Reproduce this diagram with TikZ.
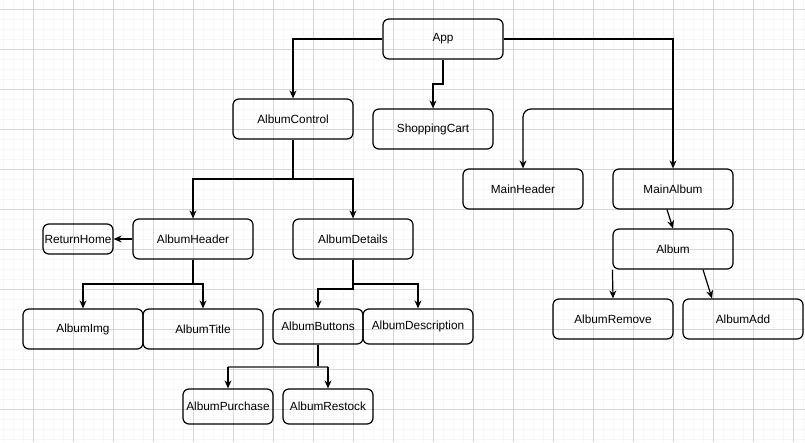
\documentclass[tikz,border=0pt]{standalone}
\usepackage{fontspec}
\setmainfont{Liberation Sans}
\usetikzlibrary{arrows.meta}
\begin{document}
\begin{tikzpicture}[x=1pt,y=-1pt,
  box/.style={draw, line width=1.2pt, rounded corners=6pt, inner sep=0pt, align=center,
    minimum width=120pt, minimum height=40pt, font=\fontsize{11.8}{13}\selectfont},
  conn/.style={line width=1.2pt, -{Stealth[length=8pt,width=7pt]}},
  minorg/.style={draw=black!3.5, line width=0.5pt},
  majorg/.style={draw=black!16, line width=0.8pt}]
\useasboundingbox (0,0) rectangle (805,442);
\fill[white] (0,0) rectangle (805,442);
\foreach \x in {3,13,...,803} \draw[minorg] (\x,0) -- (\x,442);
\foreach \y in {9,19,...,439} \draw[minorg] (0,\y) -- (805,\y);
\foreach \x in {33,73,...,793} \draw[majorg] (\x,0) -- (\x,442);
\foreach \y in {9,49,...,409} \draw[majorg] (0,\y) -- (805,\y);

\node[box] (app) at (443,39) {App};
\node[box] (ctrl) at (293,119) {AlbumControl};
\node[box] (cart) at (433,129) {ShoppingCart};
\node[box] (mhead) at (523,189) {MainHeader};
\node[box] (malbum) at (673,189) {MainAlbum};
\node[box] (album) at (673,249) {Album};
\node[box] (remove) at (613,319) {AlbumRemove};
\node[box] (add) at (743,319) {AlbumAdd};
\node[box] (ahead) at (193,239) {AlbumHeader};
\node[box, minimum width=70pt, minimum height=30pt] (ret) at (78,239) {ReturnHome};
\node[box] (adet) at (353,239) {AlbumDetails};
\node[box] (img) at (83,329) {AlbumImg};
\node[box] (title) at (203,329) {AlbumTitle};
\node[box, minimum width=90pt, minimum height=35pt] (btn) at (318,326.5) {AlbumButtons};
\node[box, minimum width=110pt, minimum height=35pt] (desc) at (418,326.5) {AlbumDescription};
\node[box, minimum width=90pt, minimum height=35pt] (purch) at (228,406.5) {AlbumPurchase};
\node[box, minimum width=90pt, minimum height=35pt] (rest) at (328,406.5) {AlbumRestock};

\coordinate (c1) at (443,84);
\coordinate (c2) at (673,109);
\coordinate (c3) at (293,179);
\coordinate (c4) at (193,284);
\coordinate (c5) at (353,289);
\coordinate (c6) at (353,284);
\coordinate (c7) at (318,367);

\draw[conn] (app.west) -| (ctrl.north);
\draw[conn] (app.south) -- (c1) -| (cart.north);
\draw[conn] (app.east) -| (malbum.north);
\draw[conn, rounded corners=8pt] (c2) -| (mhead.north);
\draw[conn] ([xshift=-6pt]malbum.south) -- (album.north);
\draw[conn] (album.south west) -- (remove.north);
\draw[conn] ([xshift=30pt]album.south) -- ([xshift=-31pt]add.north);

\draw[conn] (ctrl.south) -- (c3) -| (ahead.north);
\draw[conn] (c3) -| (adet.north);
\draw[conn] (ahead.west) -- (ret.east);
\draw[conn] (ahead.south) -- (c4) -| (img.north);
\draw[conn] (c4) -| (title.north);
\draw[conn] (adet.south) -- (c5) -| (btn.north);
\draw[conn] (c6) -| (desc.north);
\draw[line width=1.2pt] (btn.south) -- (c7);
\draw[line width=1.2pt, black!60] (purch.north |- c7) -- (rest.north |- c7);
\draw[conn] (purch.north |- c7) -- (purch.north);
\draw[conn] (rest.north |- c7) -- (rest.north);
\end{tikzpicture}
\end{document}
